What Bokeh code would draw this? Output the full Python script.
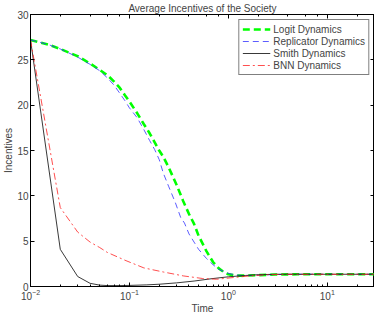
from bokeh.plotting import figure
from bokeh.models import Range1d, LinearAxis, LogAxis, FixedTicker, LogTicker
from bokeh.embed import file_html
from bokeh.resources import INLINE

# ---- data ----
t_logit = [0.01, 0.015, 0.02, 0.03, 0.04, 0.05, 0.06, 0.07, 0.08, 0.09, 0.10,
           0.12, 0.14, 0.16, 0.18, 0.20, 0.22, 0.25, 0.30, 0.35, 0.40, 0.45,
           0.50, 0.60, 0.70, 0.80, 0.90, 1.0, 1.2, 1.5, 2.0, 3.0, 5.0, 10.0, 30.0]
v_logit = [27.2, 26.7, 26.2, 25.4, 24.6, 23.9, 23.3, 22.6, 21.9, 21.1, 20.4,
           19.1, 17.9, 16.9, 15.9, 15.0, 14.3, 13.1, 11.2, 9.4, 8.0, 6.9,
           5.6, 3.9, 2.7, 2.0, 1.6, 1.35, 1.2, 1.2, 1.25, 1.32, 1.35, 1.35, 1.35]

t_repl = [0.01, 0.015, 0.02, 0.03, 0.04, 0.05, 0.06, 0.07, 0.08, 0.09, 0.10,
          0.12, 0.14, 0.16, 0.18, 0.20, 0.22, 0.25, 0.29, 0.33, 0.36, 0.40,
          0.45, 0.50, 0.60, 0.70, 0.80, 0.92, 1.0, 1.2, 1.5, 2.0, 3.0, 5.0, 30.0]
v_repl = [27.2, 26.7, 26.2, 25.3, 24.5, 23.8, 23.0, 22.2, 21.3, 20.5, 19.7,
          18.6, 17.3, 16.1, 15.1, 14.0, 12.5, 11.0, 9.3, 7.6, 7.0, 5.8,
          4.9, 4.1, 3.1, 2.4, 1.9, 1.6, 1.45, 1.25, 1.2, 1.25, 1.32, 1.35, 1.35]

t_smith = [0.01, 0.02, 0.03, 0.04, 0.05, 0.06, 0.08, 0.10, 0.15, 0.20, 0.30,
           0.45, 0.70, 1.0, 1.5, 2.0, 3.0, 30.0]
v_smith = [27.2, 4.1, 1.1, 0.35, 0.15, 0.10, 0.10, 0.12, 0.18, 0.25, 0.40,
           0.60, 0.88, 1.07, 1.22, 1.30, 1.35, 1.35]

t_bnn = [0.01, 0.02, 0.03, 0.04, 0.05, 0.06, 0.08, 0.09, 0.14, 0.22, 0.35,
         0.55, 0.76, 1.04, 1.66, 2.5, 4.0, 30.0]
v_bnn = [27.2, 8.7, 6.0, 4.9, 4.3, 3.75, 3.15, 2.9, 2.05, 1.6, 1.17,
         0.88, 0.80, 0.95, 1.17, 1.30, 1.35, 1.35]

series_names = ["Logit Dynamics", "Replicator Dynamics", "Smith Dynamics", "BNN Dynamics"]
y_ticks = [0, 5, 10, 15, 20, 25, 30]

FONT = "Liberation Sans"

p = figure(width=374, height=316, x_axis_type="log",
           x_range=Range1d(0.01, 30), y_range=Range1d(0, 30),
           output_backend="svg", toolbar_location=None,
           title="Average Incentives of the Society",
           x_axis_label="Time", y_axis_label="Incentives")
p.min_border_left = 0
p.min_border_right = 0
p.min_border_top = 0
p.min_border_bottom = 0
p.outline_line_color = "black"
p.outline_line_width = 1
p.xgrid.visible = False
p.ygrid.visible = False
p.background_fill_color = "white"
p.border_fill_color = "white"

p.title.align = "center"
p.title.text_font = FONT
p.title.text_font_size = "10px"
p.title.text_font_style = "normal"
p.title.standoff = 1
p.title.offset = 0


def style_axis(ax, labels=True):
    ax.axis_line_color = "black"
    ax.axis_line_width = 1
    ax.major_tick_in = 4
    ax.major_tick_out = 0
    ax.minor_tick_in = 2
    ax.minor_tick_out = 0
    ax.major_tick_line_color = "black"
    ax.minor_tick_line_color = "black"
    ax.major_label_text_font = FONT
    if labels:
        ax.major_label_text_font_size = "10px"
        ax.major_label_standoff = 2
    else:
        ax.major_label_text_font_size = "1px"
        ax.major_label_text_alpha = 0
        ax.major_label_standoff = 0
    ax.axis_label_text_font = FONT
    ax.axis_label_text_font_size = "10px"
    ax.axis_label_text_font_style = "normal"
    ax.axis_label_standoff = 0


p.yaxis.ticker = FixedTicker(ticks=y_ticks)
for ax in p.xaxis + p.yaxis:
    style_axis(ax)
p.yaxis.minor_tick_in = 0

right = LinearAxis(ticker=FixedTicker(ticks=y_ticks))
style_axis(right, labels=False)
right.minor_tick_in = 0
p.add_layout(right, "right")

top = LogAxis(ticker=LogTicker())
style_axis(top, labels=False)
p.add_layout(top, "above")

p.line(t_logit, v_logit, line_color="#00ff00", line_width=2.6, line_dash="7 4",
       legend_label=series_names[0])
p.line(t_repl, v_repl, line_color="#3333ff", line_width=0.8, line_dash="6 4",
       legend_label=series_names[1])
p.line(t_smith, v_smith, line_color="#222222", line_width=0.9,
       legend_label=series_names[2])
p.line(t_bnn, v_bnn, line_color="#ff2222", line_width=0.8, line_dash="7 3 2 3",
       legend_label=series_names[3])

lg = p.legend[0]
lg.location = "top_right"
lg.margin = 5
lg.padding = 3
lg.spacing = 0
lg.label_height = 12
lg.glyph_height = 12
lg.glyph_width = 28
lg.label_standoff = 3
lg.label_text_font = FONT
lg.label_text_font_size = "10px"
lg.border_line_color = "black"
lg.border_line_width = 1
lg.background_fill_alpha = 1

open("out.html", "w").write(file_html(p, INLINE))
